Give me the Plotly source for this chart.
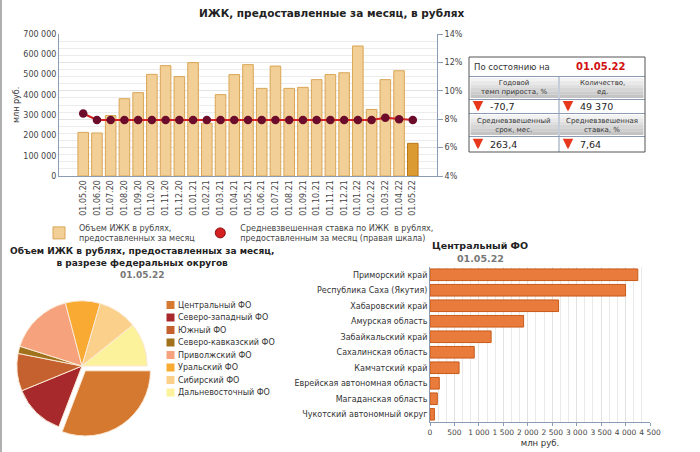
import plotly.graph_objects as go

# ---------------- data ----------------
months = ["01.05.20", "01.06.20", "01.07.20", "01.08.20", "01.09.20", "01.10.20",
          "01.11.20", "01.12.20", "01.01.21", "01.02.21", "01.03.21", "01.04.21",
          "01.05.21", "01.06.21", "01.07.21", "01.08.21", "01.09.21", "01.10.21",
          "01.11.21", "01.12.21", "01.01.22", "01.02.22", "01.03.22", "01.04.22",
          "01.05.22"]
volumes = [215000, 212000, 298000, 381000, 411000, 501000, 544000, 490000, 559000,
           260000, 401000, 500000, 549000, 432000, 542000, 432000, 437000, 475000,
           500000, 509000, 641000, 328000, 475000, 519000, 161000]
rates = [8.4, 7.95, 7.95, 7.95, 7.95, 7.95, 7.95, 7.95, 7.95, 7.95, 7.95, 7.95,
         7.95, 7.95, 7.95, 7.95, 7.95, 7.95, 7.95, 7.95, 7.95, 7.95, 8.1, 8.0, 7.95]
rate_ticks = [4, 6, 8, 10, 12, 14]
rate_tick_labels = ["4%", "6%", "8%", "10%", "12%", "14%"]
volume_ticks = [0, 100000, 200000, 300000, 400000, 500000, 600000, 700000]

districts = ["Центральный ФО", "Северо-западный ФО", "Южный ФО", "Северо-кавказский ФО",
             "Приволжский ФО", "Уральский ФО", "Сибирский ФО", "Дальневосточный ФО"]
district_shares = [30.8, 13.0, 9.3, 1.8, 16.0, 8.6, 9.7, 10.8]

regions = ["Приморский край", "Республика Саха (Якутия)", "Хабаровский край",
           "Амурская область", "Забайкальский край", "Сахалинская область",
           "Камчатский край", "Еврейская автономная область", "Магаданская область",
           "Чукотский автономный округ"]
region_values = [4250, 4000, 2630, 1915, 1250, 905, 595, 190, 150, 90]
region_ticks = [0, 500, 1000, 1500, 2000, 2500, 3000, 3500, 4000, 4500]

report_date = "01.05.22"
table_headers = [["Годовой<br>темп прироста, %", "Количество,<br>ед."],
                 ["Средневзвешенный<br>срок, мес.", "Средневзвешенная<br>ставка, %"]]
table_values = [["-70,7", "49 370"], ["263,4", "7,64"]]

# ---------------- helpers ----------------
W, H = 700, 452
FONT = "DejaVu Sans"


def fx(x):
    return x / W


def fy(y):
    return 1 - y / H


AXIS_BLUE = "#8a9bb3"

bar_colors = ["#f2cf96"] * (len(months) - 1) + ["#dc9a32"]
bar_lines = ["#d8a656"] * (len(months) - 1) + ["#b87818"]
pie_colors = ["#d4792f", "#a8292b", "#c4612f", "#a0721c", "#f6a27c", "#f8aa32",
              "#fbd08a", "#fbf29b"]

fig = go.Figure()

# ---------- top chart ----------
fig.add_trace(go.Bar(
    x=months, y=volumes, name="Объем ИЖК в рублях,<br>предоставленных за месяц",
    marker=dict(color=bar_colors, line=dict(color=bar_lines, width=1)),
    width=0.77, xaxis="x", yaxis="y"))
fig.add_trace(go.Scatter(
    x=months, y=rates, mode="lines+markers", showlegend=False,
    line=dict(color="#d42020", width=2),
    marker=dict(color="#6d0b2b", size=8.5),
    xaxis="x", yaxis="y2"))
fig.add_trace(go.Scatter(
    x=[None], y=[None], mode="markers",
    name="Средневзвешенная ставка по ИЖК  в рублях,<br>предоставленным за месяц (правая шкала)",
    marker=dict(color="#d42020", size=10, line=dict(color="#8a1010", width=1)),
    xaxis="x", yaxis="y2"))

# ---------- pie ----------
fig.add_trace(go.Pie(
    labels=districts, values=district_shares, sort=False, direction="clockwise",
    rotation=90, pull=[0.09] + [0] * (len(districts) - 1),
    marker=dict(colors=pie_colors, line=dict(color="#fbe9d6", width=1)),
    textinfo="none", hoverinfo="label+percent", showlegend=False,
    domain=dict(x=[fx(11), fx(153)], y=[fy(437), fy(295)])))

# ---------- bottom-right bars ----------
fig.add_trace(go.Bar(
    x=region_values, y=regions, orientation="h", showlegend=False,
    marker=dict(color="#e97c3c", line=dict(color="#c85a18", width=1)),
    width=0.75, xaxis="x3", yaxis="y3"))

tick_font = dict(family=FONT, size=8, color="#444")

fig.update_layout(
    width=W, height=H, margin=dict(l=0, r=0, t=0, b=0, autoexpand=False),
    paper_bgcolor="white", plot_bgcolor="white",
    separators=", ", font=dict(family=FONT, size=8, color="#333"),
    xaxis=dict(domain=[fx(59), fx(437)], type="category", tickangle=-90,
               tickfont=tick_font, showline=True, linecolor=AXIS_BLUE,
               showgrid=False, ticks="", anchor="y", automargin=False),
    yaxis=dict(domain=[fy(176), fy(34)], range=[0, 700000], tickvals=volume_ticks,
               tickformat=",d", tickfont=tick_font, showline=True,
               linecolor=AXIS_BLUE, showgrid=False, zeroline=False, anchor="x",
               automargin=False),
    yaxis2=dict(overlaying="y", side="right", range=[4, 14], tickvals=rate_ticks,
                ticktext=rate_tick_labels, tickfont=tick_font, showline=True,
                linecolor=AXIS_BLUE, ticks="outside", ticklen=5,
                tickcolor=AXIS_BLUE, showgrid=True, gridcolor="#e3e3e3",
                zeroline=False, anchor="x", automargin=False,
                minor=dict(dtick=0.5, showgrid=True, gridcolor="#ececec")),
    xaxis3=dict(domain=[fx(430), fx(650)], range=[0, 4500], tickvals=region_ticks,
                tickformat=",d", tickangle=0, tickfont=dict(family=FONT, size=7.5, color="#444"),
                showline=True, linecolor=AXIS_BLUE, ticks="outside", ticklen=3,
                tickcolor=AXIS_BLUE, showgrid=True, gridcolor="#e2e2e2",
                zeroline=False, anchor="y3", automargin=False,
                minor=dict(dtick=500 / 3, showgrid=True, gridcolor="#e9e9e9"),
                title=dict(text="млн руб.", font=dict(family=FONT, size=8.5, color="#333"),
                           standoff=4)),
    yaxis3=dict(domain=[fy(422), fy(267)], autorange="reversed",
                tickfont=dict(family=FONT, size=8, color="#333"),
                showline=True, linecolor=AXIS_BLUE, ticks="", anchor="x3",
                automargin=False),
    legend=dict(orientation="h", x=fx(39), y=fy(216), xanchor="left", yanchor="top",
                font=dict(family=FONT, size=8, color="#444"),
                bgcolor="rgba(0,0,0,0)"),
)

annotations = []
shapes = []


def label(text, x, y, size=8, color="#333", xanchor="center", **kw):
    annotations.append(dict(text=text, x=fx(x), y=fy(y), xref="paper", yref="paper",
                            xanchor=xanchor, yanchor="middle", showarrow=False,
                            font=dict(family=FONT, size=size, color=color), **kw))


# titles
label("<b>ИЖК, предоставленные за месяц, в рублях</b>", 331, 13, size=10.5, color="#222")
label("млн руб.", 17, 105, size=8, textangle=-90)
label("<b>Объем ИЖК в рублях, предоставленных за месяц,<br>в разрезе федеральных округов</b>",
      142, 257, size=9, color="#222")
label("<b>" + report_date + "</b>", 142, 275, size=9, color="#777")
label("<b>Центральный ФО</b>", 480, 245, size=9.5, color="#222")
label("<b>" + report_date + "</b>", 480, 258, size=9.5, color="#777")

# pie legend (manual)
for i, (name, col) in enumerate(zip(districts, pie_colors)):
    yc = 305 + i * 12.5
    shapes.append(dict(type="rect", xref="paper", yref="paper",
                       x0=fx(166.5), x1=fx(174.5), y0=fy(yc + 4), y1=fy(yc - 4),
                       fillcolor=col, line=dict(width=0)))
    label(name, 176, yc, size=8, xanchor="left")

# ---------- table ----------
TX0, TX1, TXM = 469, 645, 559
rows = [(57, 76.5), (76.5, 99.5), (99.5, 113.5), (113.5, 136.5), (136.5, 152)]
for (ya, yb) in (rows[1], rows[3]):
    for cx0, cx1 in ((TX0 + 1.5, TXM - 1), (TXM + 1, TX1 - 1.5)):
        nb = 6
        for k in range(nb):
            g = int(242 - k * (242 - 196) / (nb - 1))
            y0 = ya + 1.5 + (yb - ya - 3) * k / nb
            y1 = ya + 1.5 + (yb - ya - 3) * (k + 1) / nb
            shapes.append(dict(type="rect", xref="paper", yref="paper",
                               x0=fx(cx0), x1=fx(cx1), y0=fy(y1), y1=fy(y0),
                               fillcolor=f"rgb({g},{g},{g})", line=dict(width=0)))
for (ya, yb) in rows[:-1]:
    shapes.append(dict(type="line", xref="paper", yref="paper", x0=fx(TX0), x1=fx(TX1),
                       y0=fy(yb), y1=fy(yb), line=dict(color=AXIS_BLUE, width=1)))
shapes.append(dict(type="line", xref="paper", yref="paper", x0=fx(TXM), x1=fx(TXM),
                   y0=fy(rows[1][0]), y1=fy(rows[-1][1]), line=dict(color=AXIS_BLUE, width=1)))
shapes.append(dict(type="rect", xref="paper", yref="paper", x0=fx(TX0), x1=fx(TX1),
                   y0=fy(152), y1=fy(57), line=dict(color="#555", width=1)))

label("По состоянию на", 472, 66.5, size=8.5, xanchor="left")
label("<b>" + report_date + "</b>", 600, 66.5, size=10, color="#d01010")
for r, (hrow, vrow) in enumerate(zip(table_headers, table_values)):
    hy = (rows[1 + 2 * r][0] + rows[1 + 2 * r][1]) / 2
    vy = (rows[2 + 2 * r][0] + rows[2 + 2 * r][1]) / 2
    for c, (htxt, vtxt) in enumerate(zip(hrow, vrow)):
        cx0 = TX0 if c == 0 else TXM
        cx1 = TXM if c == 0 else TX1
        label(htxt, (cx0 + cx1) / 2, hy, size=7)
        annotations.append(dict(text="", x=fx(cx0 + 9), y=fy(vy + 5), xref="paper",
                                yref="paper", showarrow=True, ax=0, ay=-10,
                                arrowhead=2, arrowsize=0.7, arrowwidth=3,
                                arrowcolor="#e8381c"))
        label(vtxt, cx0 + 19, vy + 0.5, size=9.5, color="#222", xanchor="left")

# left border
shapes.append(dict(type="line", xref="paper", yref="paper", x0=fx(1), x1=fx(1),
                   y0=0, y1=1, line=dict(color="#b0b0b0", width=2)))

fig.update_layout(annotations=annotations, shapes=shapes)
fig.write_html("out.html", config={"displayModeBar": False},
               post_script="document.body.style.margin='0';")
